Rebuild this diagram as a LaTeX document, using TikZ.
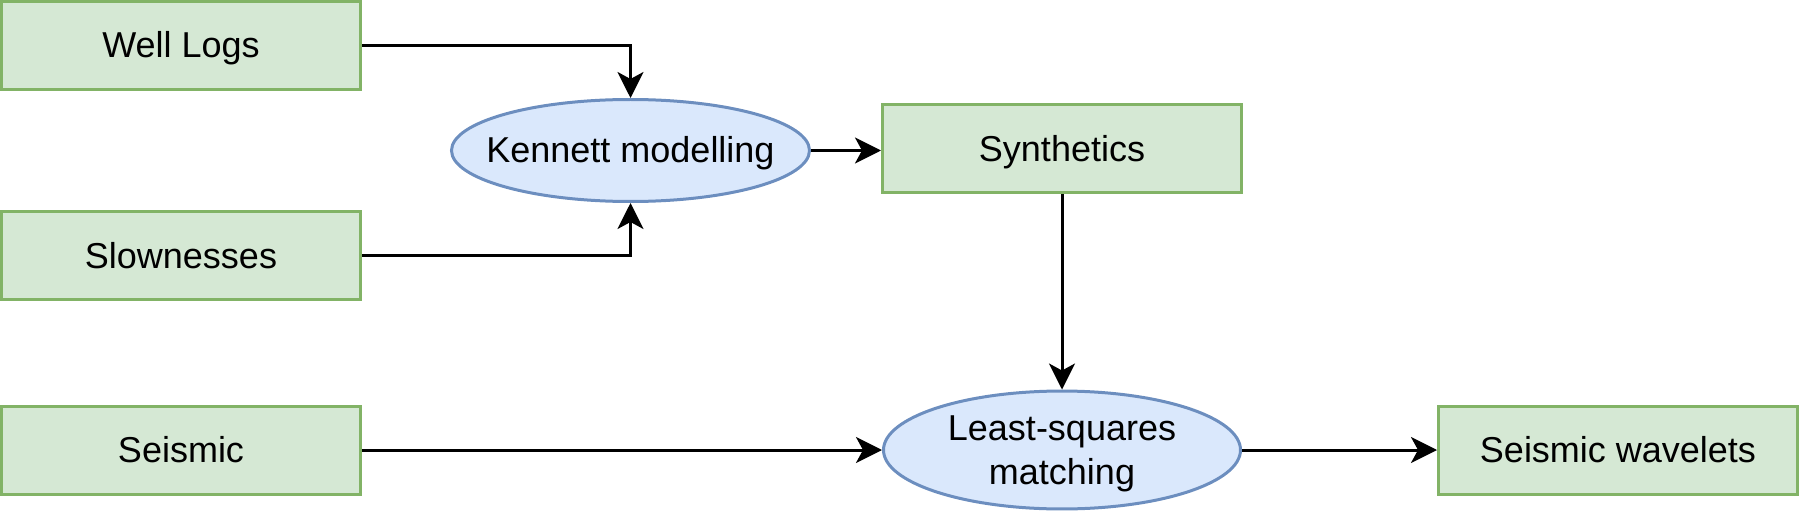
\documentclass[tikz,border=0pt]{standalone}
\usepackage{fontspec}
\setmainfont{Liberation Sans}
\usetikzlibrary{arrows.meta,shapes.geometric}
\definecolor{gfill}{HTML}{D5E8D4}
\definecolor{gline}{HTML}{82B366}
\definecolor{bfill}{HTML}{DAE8FC}
\definecolor{bline}{HTML}{6C8EBF}
\newcommand{\dstrut}{\rule[-7.6pt]{0pt}{40.2pt}}
\tikzset{
  databox/.style={draw=gline, fill=gfill, line width=3pt, minimum width=359pt, minimum height=88pt, inner sep=0pt, font=\fontsize{36}{43.2}\selectfont},
  procell/.style={ellipse, draw=bline, fill=bfill, line width=3pt, inner xsep=-25pt, inner ysep=0pt, align=center, font=\fontsize{36}{43.2}\selectfont},
  conn/.style={draw=black, line width=3pt, -{Stealth[length=26pt,width=26pt,inset=7pt]}}
}
\begin{document}
\begin{tikzpicture}[x=1pt,y=1pt]
\useasboundingbox (0,0) rectangle (1800,-516);
\node[databox] (wl) at (181,-45.5) {\dstrut Well Logs};
\node[databox] (sl) at (181,-255.5) {\dstrut Slownesses};
\node[databox] (se) at (181,-450) {\dstrut Seismic};
\node[procell, minimum width=358pt, minimum height=102pt] (km) at (630.5,-150.5) {\dstrut Kennett modelling};
\node[databox] (sy) at (1062,-149) {\dstrut Synthetics};
\node[procell, minimum width=357pt, minimum height=117pt] (ls) at (1062,-450) {\dstrut Least-squares\\\dstrut matching};
\node[databox] (sw) at (1618,-450) {\dstrut Seismic wavelets};
\draw[conn] (wl.east) -- (km.north |- wl.east) -- (km.north);
\draw[conn] (sl.east) -- (km.south |- sl.east) -- (km.south);
\draw[conn] (km.east) -- (km.east -| sy.west);
\draw[conn] (sy.south) -- (ls.north);
\draw[conn] (se.east) -- (ls.west);
\draw[conn] (ls.east) -- (sw.west);
\end{tikzpicture}
\end{document}
